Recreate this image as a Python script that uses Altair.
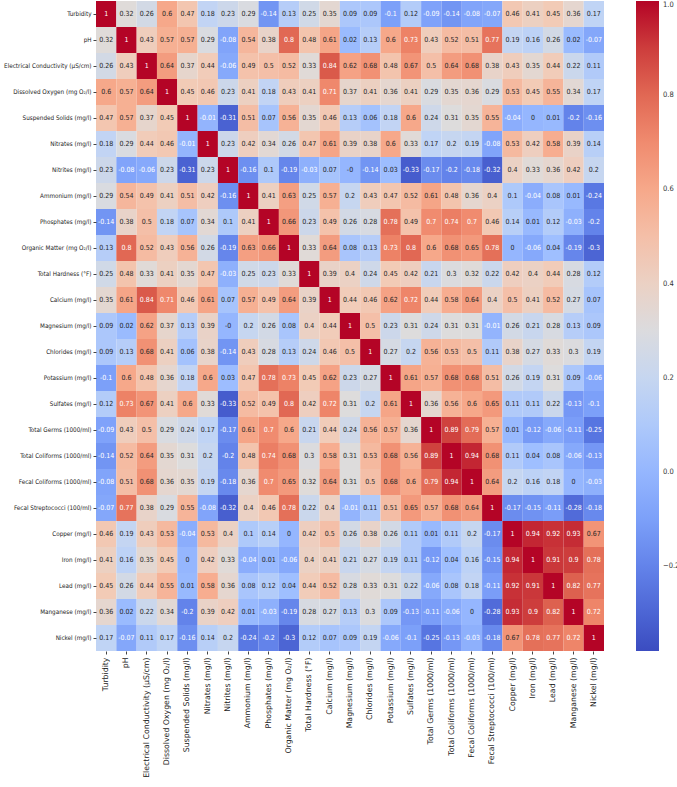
import altair as alt
import numpy as np
import pandas as pd

# Water-quality parameters (rows and columns of the correlation matrix)
params = [
    "Turbidity", "pH", "Electrical Conductivity (µS/cm)", "Dissolved Oxygen (mg O₂/l)",
    "Suspended Solids (mg/l)", "Nitrates (mg/l)", "Nitrites (mg/l)", "Ammonium (mg/l)",
    "Phosphates (mg/l)", "Organic Matter (mg O₂/l)", "Total Hardness (°F)", "Calcium (mg/l)",
    "Magnesium (mg/l)", "Chlorides (mg/l)", "Potassium (mg/l)", "Sulfates (mg/l)",
    "Total Germs (1000/ml)", "Total Coliforms (1000/ml)", "Fecal Coliforms (1000/ml)",
    "Fecal Streptococci (100/ml)", "Copper (mg/l)", "Iron (mg/l)", "Lead (mg/l)",
    "Manganese (mg/l)", "Nickel (mg/l)",
]

# Pearson correlation coefficients, one row per parameter
turbidity = [1, 0.32, 0.26, 0.6, 0.47, 0.18, 0.23, 0.29, -0.14, 0.13, 0.25, 0.35, 0.09, 0.09, -0.1, 0.12, -0.09, -0.14, -0.08, -0.07, 0.46, 0.41, 0.45, 0.36, 0.17]
ph = [0.32, 1, 0.43, 0.57, 0.57, 0.29, -0.08, 0.54, 0.38, 0.8, 0.48, 0.61, 0.02, 0.13, 0.6, 0.73, 0.43, 0.52, 0.51, 0.77, 0.19, 0.16, 0.26, 0.02, -0.07]
conductivity = [0.26, 0.43, 1, 0.64, 0.37, 0.44, -0.06, 0.49, 0.5, 0.52, 0.33, 0.84, 0.62, 0.68, 0.48, 0.67, 0.5, 0.64, 0.68, 0.38, 0.43, 0.35, 0.44, 0.22, 0.11]
oxygen = [0.6, 0.57, 0.64, 1, 0.45, 0.46, 0.23, 0.41, 0.18, 0.43, 0.41, 0.71, 0.37, 0.41, 0.36, 0.41, 0.29, 0.35, 0.36, 0.29, 0.53, 0.45, 0.55, 0.34, 0.17]
solids = [0.47, 0.57, 0.37, 0.45, 1, -0.01, -0.31, 0.51, 0.07, 0.56, 0.35, 0.46, 0.13, 0.06, 0.18, 0.6, 0.24, 0.31, 0.35, 0.55, -0.04, 0, 0.01, -0.2, -0.16]
nitrates = [0.18, 0.29, 0.44, 0.46, -0.01, 1, 0.23, 0.42, 0.34, 0.26, 0.47, 0.61, 0.39, 0.38, 0.6, 0.33, 0.17, 0.2, 0.19, -0.08, 0.53, 0.42, 0.58, 0.39, 0.14]
nitrites = [0.23, -0.08, -0.06, 0.23, -0.31, 0.23, 1, -0.16, 0.1, -0.19, -0.03, 0.07, -0.0, -0.14, 0.03, -0.33, -0.17, -0.2, -0.18, -0.32, 0.4, 0.33, 0.36, 0.42, 0.2]
ammonium = [0.29, 0.54, 0.49, 0.41, 0.51, 0.42, -0.16, 1, 0.41, 0.63, 0.25, 0.57, 0.2, 0.43, 0.47, 0.52, 0.61, 0.48, 0.36, 0.4, 0.1, -0.04, 0.08, 0.01, -0.24]
phosphates = [-0.14, 0.38, 0.5, 0.18, 0.07, 0.34, 0.1, 0.41, 1, 0.66, 0.23, 0.49, 0.26, 0.28, 0.78, 0.49, 0.7, 0.74, 0.7, 0.46, 0.14, 0.01, 0.12, -0.03, -0.2]
organic = [0.13, 0.8, 0.52, 0.43, 0.56, 0.26, -0.19, 0.63, 0.66, 1, 0.33, 0.64, 0.08, 0.13, 0.73, 0.8, 0.6, 0.68, 0.65, 0.78, 0, -0.06, 0.04, -0.19, -0.3]
hardness = [0.25, 0.48, 0.33, 0.41, 0.35, 0.47, -0.03, 0.25, 0.23, 0.33, 1, 0.39, 0.4, 0.24, 0.45, 0.42, 0.21, 0.3, 0.32, 0.22, 0.42, 0.4, 0.44, 0.28, 0.12]
calcium = [0.35, 0.61, 0.84, 0.71, 0.46, 0.61, 0.07, 0.57, 0.49, 0.64, 0.39, 1, 0.44, 0.46, 0.62, 0.72, 0.44, 0.58, 0.64, 0.4, 0.5, 0.41, 0.52, 0.27, 0.07]
magnesium = [0.09, 0.02, 0.62, 0.37, 0.13, 0.39, -0.0, 0.2, 0.26, 0.08, 0.4, 0.44, 1, 0.5, 0.23, 0.31, 0.24, 0.31, 0.31, -0.01, 0.26, 0.21, 0.28, 0.13, 0.09]
chlorides = [0.09, 0.13, 0.68, 0.41, 0.06, 0.38, -0.14, 0.43, 0.28, 0.13, 0.24, 0.46, 0.5, 1, 0.27, 0.2, 0.56, 0.53, 0.5, 0.11, 0.38, 0.27, 0.33, 0.3, 0.19]
potassium = [-0.1, 0.6, 0.48, 0.36, 0.18, 0.6, 0.03, 0.47, 0.78, 0.73, 0.45, 0.62, 0.23, 0.27, 1, 0.61, 0.57, 0.68, 0.68, 0.51, 0.26, 0.19, 0.31, 0.09, -0.06]
sulfates = [0.12, 0.73, 0.67, 0.41, 0.6, 0.33, -0.33, 0.52, 0.49, 0.8, 0.42, 0.72, 0.31, 0.2, 0.61, 1, 0.36, 0.56, 0.6, 0.65, 0.11, 0.11, 0.22, -0.13, -0.1]
total_germs = [-0.09, 0.43, 0.5, 0.29, 0.24, 0.17, -0.17, 0.61, 0.7, 0.6, 0.21, 0.44, 0.24, 0.56, 0.57, 0.36, 1, 0.89, 0.79, 0.57, 0.01, -0.12, -0.06, -0.11, -0.25]
total_coliforms = [-0.14, 0.52, 0.64, 0.35, 0.31, 0.2, -0.2, 0.48, 0.74, 0.68, 0.3, 0.58, 0.31, 0.53, 0.68, 0.56, 0.89, 1, 0.94, 0.68, 0.11, 0.04, 0.08, -0.06, -0.13]
fecal_coliforms = [-0.08, 0.51, 0.68, 0.36, 0.35, 0.19, -0.18, 0.36, 0.7, 0.65, 0.32, 0.64, 0.31, 0.5, 0.68, 0.6, 0.79, 0.94, 1, 0.64, 0.2, 0.16, 0.18, 0, -0.03]
fecal_strep = [-0.07, 0.77, 0.38, 0.29, 0.55, -0.08, -0.32, 0.4, 0.46, 0.78, 0.22, 0.4, -0.01, 0.11, 0.51, 0.65, 0.57, 0.68, 0.64, 1, -0.17, -0.15, -0.11, -0.28, -0.18]
copper = [0.46, 0.19, 0.43, 0.53, -0.04, 0.53, 0.4, 0.1, 0.14, 0, 0.42, 0.5, 0.26, 0.38, 0.26, 0.11, 0.01, 0.11, 0.2, -0.17, 1, 0.94, 0.92, 0.93, 0.67]
iron = [0.41, 0.16, 0.35, 0.45, 0, 0.42, 0.33, -0.04, 0.01, -0.06, 0.4, 0.41, 0.21, 0.27, 0.19, 0.11, -0.12, 0.04, 0.16, -0.15, 0.94, 1, 0.91, 0.9, 0.78]
lead = [0.45, 0.26, 0.44, 0.55, 0.01, 0.58, 0.36, 0.08, 0.12, 0.04, 0.44, 0.52, 0.28, 0.33, 0.31, 0.22, -0.06, 0.08, 0.18, -0.11, 0.92, 0.91, 1, 0.82, 0.77]
manganese = [0.36, 0.02, 0.22, 0.34, -0.2, 0.39, 0.42, 0.01, -0.03, -0.19, 0.28, 0.27, 0.13, 0.3, 0.09, -0.13, -0.11, -0.06, 0, -0.28, 0.93, 0.9, 0.82, 1, 0.72]
nickel = [0.17, -0.07, 0.11, 0.17, -0.16, 0.14, 0.2, -0.24, -0.2, -0.3, 0.12, 0.07, 0.09, 0.19, -0.06, -0.1, -0.25, -0.13, -0.03, -0.18, 0.67, 0.78, 0.77, 0.72, 1]

matrix = [
    turbidity, ph, conductivity, oxygen, solids, nitrates, nitrites, ammonium,
    phosphates, organic, hardness, calcium, magnesium, chlorides, potassium, sulfates,
    total_germs, total_coliforms, fecal_coliforms, fecal_strep, copper, iron, lead,
    manganese, nickel,
]

colorbar_ticks = [-0.2, 0.0, 0.2, 0.4, 0.6, 0.8, 1.0]

records = []
for r, row_name in enumerate(params):
    for c, col_name in enumerate(params):
        v = matrix[r][c]
        records.append({"row": row_name, "col": col_name, "value": float(v), "label": f"{v:g}"})
df = pd.DataFrame(records)

# coolwarm colour ramp spread evenly over the colour-bar range
coolwarm = ["#3b4cc0", "#5977e3", "#7b9ff9", "#9ebeff", "#c0d4f5", "#dddcdc",
            "#f2cbb7", "#f7ac8e", "#ee8468", "#d65244", "#b40426"]
c_lo, c_hi = -0.38, 1.0
stops = [round(s, 4) for s in np.linspace(c_lo, c_hi, len(coolwarm))]

FONT = "DejaVu Sans Condensed, DejaVu Sans"

x_enc = alt.X("col:N", sort=params, title=None,
              axis=alt.Axis(labelAngle=-90, labelFontSize=7.8, labelColor="#222222",
                            tickSize=3, tickColor="#444444", domain=False,
                            labelPadding=3, labelFont="DejaVu Sans", labelLimit=200))
y_enc = alt.Y("row:N", sort=params, title=None,
              axis=alt.Axis(labelFontSize=6.3, labelColor="#222222", tickSize=3,
                            tickColor="#444444", domain=False, labelPadding=2,
                            labelFont=FONT, labelLimit=200))

cells = alt.Chart(df).mark_rect().encode(
    x=x_enc,
    y=y_enc,
    color=alt.Color(
        "value:Q",
        scale=alt.Scale(domain=stops, range=coolwarm, interpolate="rgb"),
        legend=alt.Legend(title=None, orient="right", gradientLength=650,
                          gradientThickness=23, offset=32, values=colorbar_ticks,
                          format=".1f", labelFontSize=7.5, labelColor="#333333",
                          labelFont=FONT, labelOffset=4),
    ),
)

text = alt.Chart(df).mark_text(fontSize=7, font=FONT).encode(
    x=alt.X("col:N", sort=params),
    y=alt.Y("row:N", sort=params),
    text="label:N",
    color=alt.condition("datum.value < -0.005 || datum.value > 0.69",
                        alt.value("#ffffff"), alt.value("#262626")),
)

chart = (
    alt.layer(cells, text)
    .properties(
        width=508, height=650,
        autosize=alt.AutoSizeParams(type="none"),
        padding={"left": 96, "top": 1, "right": 73, "bottom": 136},
        background="#ffffff",
    )
    .configure_view(stroke=None)
)

chart.save("out.html", embed_options={"renderer": "svg", "actions": False})
